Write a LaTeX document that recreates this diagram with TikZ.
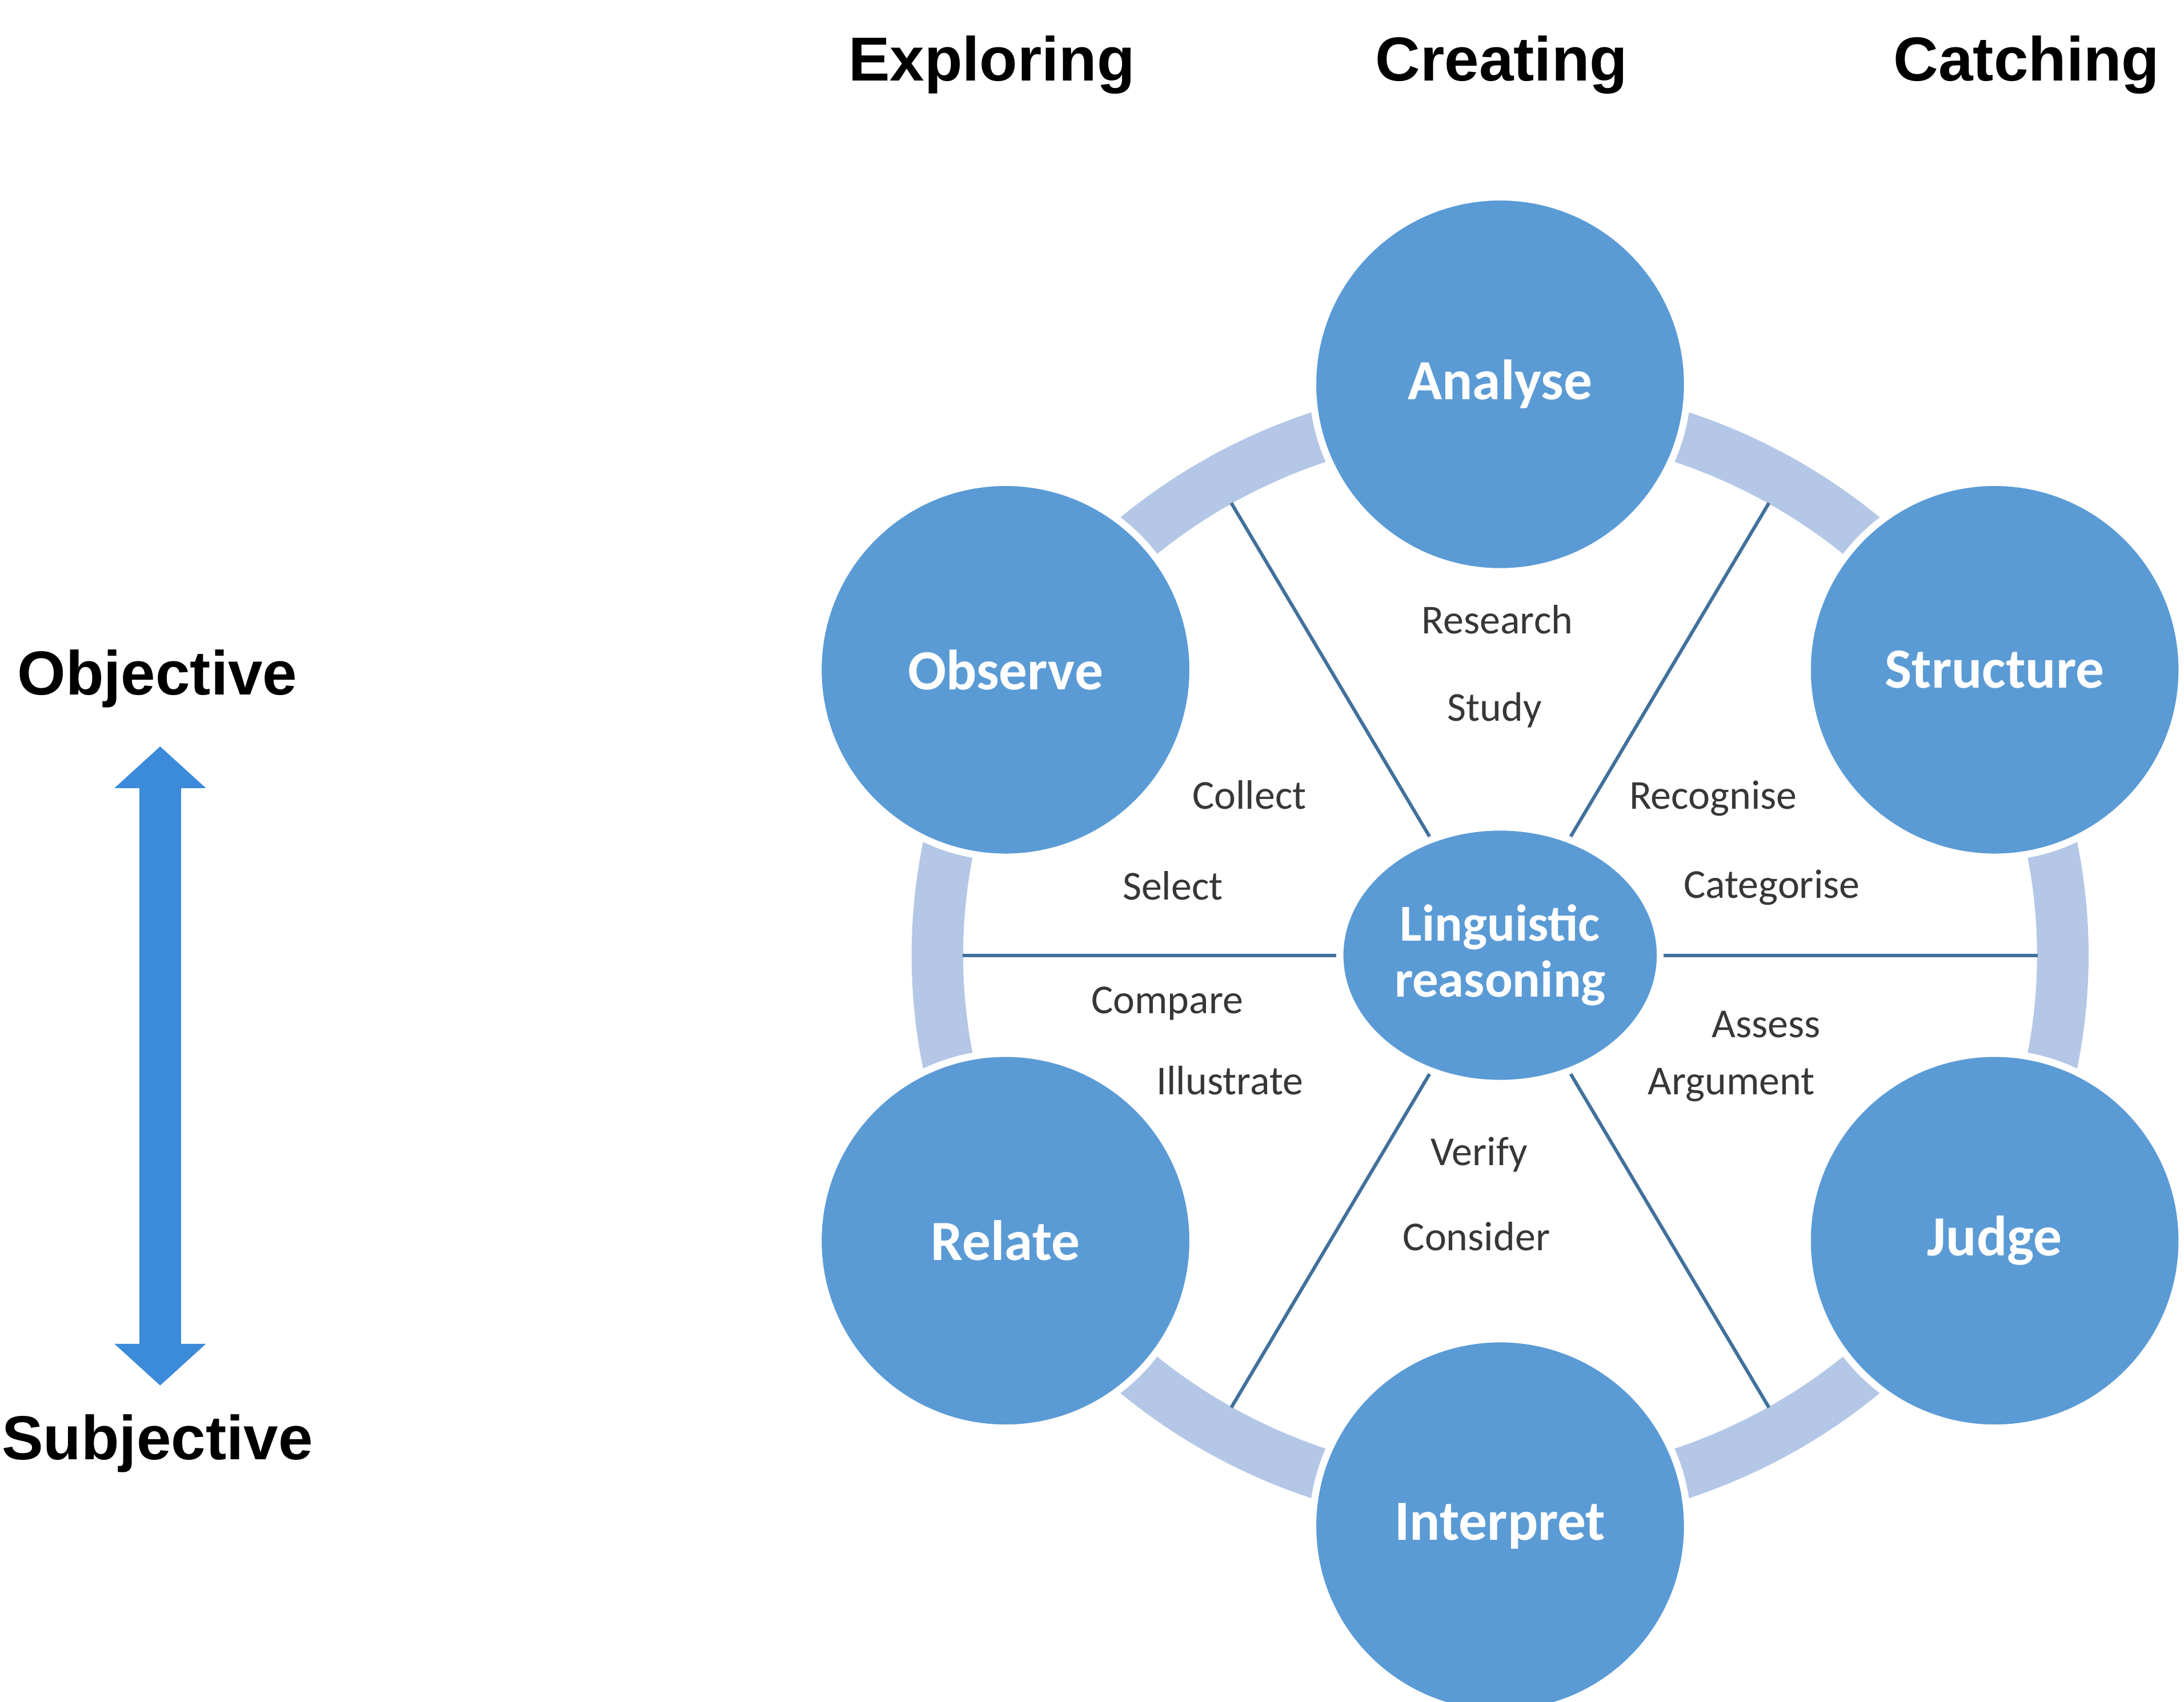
\documentclass[tikz,border=0pt]{standalone}
\usepackage{fontspec}
\setmainfont{Carlito}
\newfontfamily\headfont{Liberation Sans}
\usetikzlibrary{arrows.meta,shapes.geometric}

\definecolor{discblue}{RGB}{91,155,213}
\definecolor{ringblue}{RGB}{180,199,231}
\definecolor{spokeblue}{RGB}{65,113,156}
\definecolor{arrowblue}{RGB}{60,138,218}
\definecolor{verbgrey}{RGB}{55,55,55}

\begin{document}
\begin{tikzpicture}[
    stage/.style={circle, fill=discblue, draw=white, line width=0.5mm,
      minimum size=2.69cm, inner sep=0pt, text=white,
      font=\fontsize{11.6}{14}\selectfont\bfseries},
    hub/.style={ellipse, fill=discblue, draw=white, line width=0.5mm,
      minimum width=2.3cm, minimum height=1.84cm, inner sep=0pt,
      text=white, align=center,
      font=\fontsize{10.6}{11.4}\selectfont\bfseries},
    act/.style={anchor=base, text=verbgrey, font=\fontsize{8.4}{10}\selectfont},
    head/.style={anchor=base, font=\headfont\fontsize{12.7}{15}\selectfont\bfseries},
    spoke/.style={draw=spokeblue, line width=0.7pt},
    updown/.style={draw=arrowblue, line width=3mm,
      {Triangle[width=6.4mm,length=3mm]}-{Triangle[width=6.4mm,length=3mm]}}
  ]
      \fill[white] (-10.77,-5.36) rectangle (4.91,6.86);
      \useasboundingbox (-10.77,-5.36) rectangle (4.91,6.86);

      % column titles and the scale on the left
      \node[head] (explore) at (-3.65,6.28) {Exploring};
      \node[head] (create) at (0.01,6.28) {Creating};
      \node[head] (catch) at (3.78,6.28) {Catching};
      \node[head] (obj) at (-9.64,1.87) {Objective};
      \node[head] (subj) at (-9.64,-3.62) {Subjective};
      \coordinate (tipup) at (-9.62,1.50);
      \coordinate (tipdown) at (-9.62,-3.09);
      \draw[updown] (tipup) -- (tipdown);

      % ring, hub and spokes
      \draw[ringblue, line width=3.7mm] (0,0) ellipse [x radius=4.04, y radius=3.93];
      \node[hub] (lr) at (0,0) {Linguistic\\reasoning};
      \draw
        (0:3.86 and 3.75) coordinate (s0)
        (60:3.86 and 3.75) coordinate (s1)
        (120:3.86 and 3.75) coordinate (s2)
        (180:3.86 and 3.75) coordinate (s3)
        (240:3.86 and 3.75) coordinate (s4)
        (300:3.86 and 3.75) coordinate (s5);
      \begin{scope}[spoke]
        \draw (lr) to (s0);
        \draw (lr) to (s1);
        \draw (lr) to (s2);
        \draw (lr) to (s3);
        \draw (lr) to (s4);
        \draw (lr) to (s5);
      \end{scope}

      % the six stages
      \draw
        (90:4.1) node[stage] (an) {Analyse}
        (30:4.1) node[stage] (st) {Structure}
        (330:4.1) node[stage] (ju) {Judge}
        (270:4.1) node[stage] (in) {Interpret}
        (210:4.1) node[stage] (re) {Relate}
        (150:4.1) node[stage] (ob) {Observe};

      % verbs between the spokes
      \node[act] (research) at (-0.02,2.31) {Research};
      \node[act] (study) at (-0.04,1.68) {Study};
      \node[act] (collect) at (-1.80,1.05) {Collect};
      \node[act] (select) at (-2.35,0.40) {Select};
      \node[act] (recognise) at (1.53,1.05) {Recognise};
      \node[act] (categorise) at (1.95,0.41) {Categorise};
      \node[act] (compare) at (-2.39,-0.42) {Compare};
      \node[act] (illustrate) at (-1.94,-1.00) {Illustrate};
      \node[act] (assess) at (1.91,-0.59) {Assess};
      \node[act] (argument) at (1.66,-1.00) {Argument};
      \node[act] (verify) at (-0.15,-1.51) {Verify};
      \node[act] (consider) at (-0.17,-2.12) {Consider};
    \end{tikzpicture}
\end{document}
